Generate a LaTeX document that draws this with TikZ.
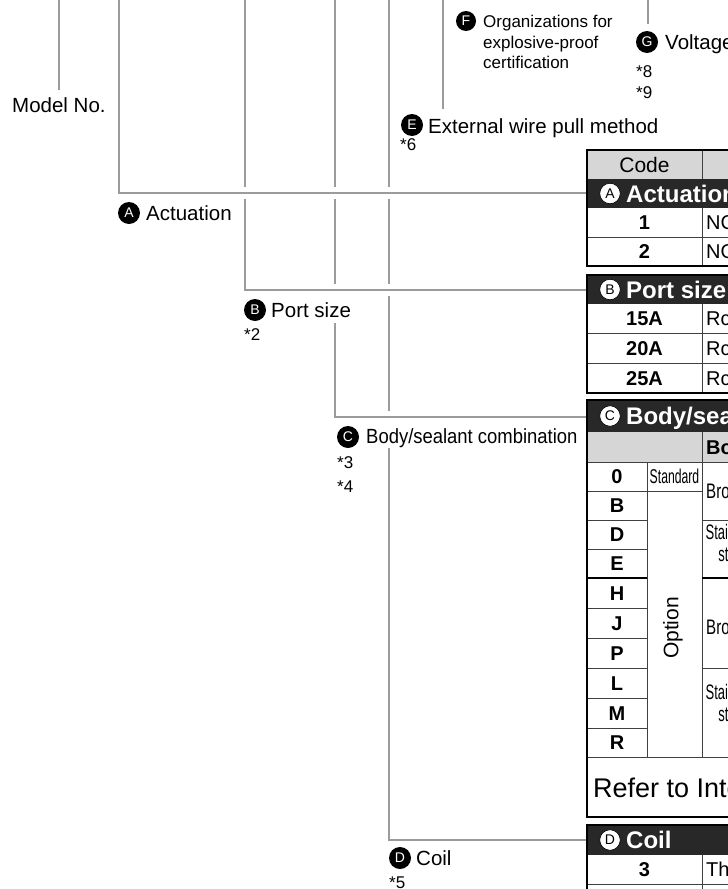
\documentclass[tikz,border=0pt]{standalone}
\usepackage{fontspec}
\setmainfont{Liberation Sans}
\usepackage{graphicx}
\definecolor{linegray}{HTML}{9B9B9B}
\definecolor{hdrgray}{HTML}{D6D6D6}
\definecolor{barblk}{HTML}{282828}
\definecolor{gridc}{HTML}{404040}
\begin{document}
\begin{tikzpicture}[x=1pt,y=-1pt,
  conn/.style={draw=linegray, line width=2.2pt, line join=miter},
  lbl/.style={anchor=base west, inner sep=0pt, font=\fontsize{20.5}{24}\selectfont},
  flbl/.style={anchor=base west, inner sep=0pt, font=\fontsize{17}{20}\selectfont},
  note/.style={anchor=base west, inner sep=0pt, font=\fontsize{17}{20}\selectfont},
  bcirc/.style={circle, fill=black, text=white, inner sep=0pt, minimum size=22pt, font=\fontsize{14}{14}\selectfont},
  wcirc/.style={circle, fill=white, draw=black, line width=0.6pt, text=black, inner sep=0pt, minimum size=20.5pt, font=\fontsize{14}{14}\selectfont},
  outer/.style={draw=black, line width=2.4pt},
  grid/.style={draw=gridc, line width=1pt},
  gridthick/.style={draw=black, line width=1.8pt},
  bartxt/.style={anchor=base west, inner sep=0pt, text=white, font=\bfseries\fontsize{24}{26}\selectfont},
  tcode/.style={anchor=base, inner sep=0pt, font=\bfseries\fontsize{20}{22}\selectfont},
  tdesc/.style={anchor=base west, inner sep=0pt, font=\fontsize{20}{22}\selectfont},
  tcond/.style={anchor=base west, inner sep=0pt, font=\fontsize{21}{22}\selectfont},
  tcondc/.style={anchor=base, inner sep=0pt, font=\fontsize{21}{22}\selectfont},
]
\useasboundingbox (0,0) rectangle (728,889);
\clip (0,0) rectangle (728,889);

% ---------- connector coordinates ----------
\coordinate (m0) at (59,0);   \coordinate (m1) at (59,90);
\coordinate (a0) at (119,0);  \coordinate (a1) at (119,193); \coordinate (a2) at (587,193);
\coordinate (b0) at (245,0);  \coordinate (b1) at (245,187); \coordinate (b2) at (245,199);
\coordinate (b3) at (245,290); \coordinate (b4) at (587,290);
\coordinate (c0) at (335,0);  \coordinate (c1) at (335,187); \coordinate (c2) at (335,199);
\coordinate (c3) at (335,284); \coordinate (c4) at (335,323); \coordinate (c5) at (335,417);
\coordinate (c6) at (587,417);
\coordinate (d0) at (389,0);  \coordinate (d1) at (389,187); \coordinate (d2) at (389,199);
\coordinate (d3) at (389,284); \coordinate (d4) at (389,296); \coordinate (d5) at (389,411);
\coordinate (d6) at (389,448); \coordinate (d7) at (389,840); \coordinate (d8) at (587,840);
\coordinate (e0) at (443,0);  \coordinate (e1) at (443,109);
\coordinate (g0) at (648,0);  \coordinate (g1) at (648,24);

\draw[conn] (m0) -- (m1);
\draw[conn] (a0) -- (a1) -- (a2);
\draw[conn] (b0) -- (b1);
\draw[conn] (b2) -- (b3) -- (b4);
\draw[conn] (c0) -- (c1);
\draw[conn] (c2) -- (c3);
\draw[conn] (c4) -- (c5) -- (c6);
\draw[conn] (d0) -- (d1);
\draw[conn] (d2) -- (d3);
\draw[conn] (d4) -- (d5);
\draw[conn] (d6) -- (d7) -- (d8);
\draw[conn] (e0) -- (e1);
\draw[conn] (g0) -- (g1);

% ---------- labels ----------
\node[lbl] (model) at (12,112) {Model No.};

\node[bcirc] (cA) at (129,213) {A};
\node[lbl] (tA) at (146,220) {Actuation};

\node[bcirc] (cB) at (255,310) {B};
\node[lbl] (tB) at (271,317) {Port size};
\node[note] (n2) at (244,340) {*2};

\node[bcirc] (cC) at (348,437) {C};
\node[lbl] (tC) at (366,443) {\scalebox{0.9}[1]{Body/sealant combination}};
\node[note] (n3) at (337,468) {*3};
\node[note] (n4) at (337,492) {*4};

\node[bcirc] (cD) at (400,858) {D};
\node[lbl] (tD) at (416,865) {Coil};
\node[note] (n5) at (389,888) {*5};

\node[bcirc] (cE) at (412,125) {E};
\node[lbl] (tE) at (428,133) {External wire pull method};
\node[note] (n6) at (400,150) {*6};

\node[bcirc, minimum size=20pt] (cF) at (466,21) {F};
\node[flbl] (tF1) at (483,27) {Organizations for};
\node[flbl] (tF2) at (483,48) {explosive-proof};
\node[flbl] (tF3) at (483,68) {certification};

\node[bcirc] (cG) at (647,42) {G};
\node[lbl] (tG) at (665,49) {Voltage};
\node[note] (n8) at (636,77) {*8};
\node[note] (n9) at (636,98) {*9};

% ---------- table section A ----------
\fill[hdrgray] (587,150) rectangle (800,179);
\fill[barblk] (587,179) rectangle (800,208);
\draw[grid] (702,150) -- (702,179);
\draw[grid] (702,208) -- (702,266);
\draw[grid] (587,237) -- (800,237);
\draw[outer] (587,150) rectangle (800,266);
\node[anchor=base, inner sep=0pt, font=\fontsize{21}{22}\selectfont] (hCode) at (644.5,172) {Code};
\node[wcirc] (hA) at (610,193.5) {A};
\node[bartxt] (hAt) at (626,202) {Actuation};
\node[tcode] (r1) at (644.5,229.7) {1};
\node[tdesc] (r1d) at (706,229.7) {NC};
\node[tcode] (r2) at (644.5,258.7) {2};
\node[tdesc] (r2d) at (706,258.7) {NO};

% ---------- table section B ----------
\fill[barblk] (587,275) rectangle (800,304);
\draw[grid] (702,304) -- (702,393);
\draw[grid] (587,333) -- (800,333);
\draw[grid] (587,363) -- (800,363);
\draw[outer] (587,275) rectangle (800,393);
\node[wcirc] (hB) at (610,289.5) {B};
\node[bartxt] (hBt) at (626,298) {Port size};
\node[tcode] (r15) at (644.5,325.7) {15A};
\node[tdesc] (r15d) at (706,325.7) {Rc1/2};
\node[tcode] (r20) at (644.5,355.2) {20A};
\node[tdesc] (r20d) at (706,355.2) {Rc3/4};
\node[tcode] (r25) at (644.5,385.2) {25A};
\node[tdesc] (r25d) at (706,385.2) {Rc1};

% ---------- table section C ----------
\fill[barblk] (587,400) rectangle (800,432);
\fill[hdrgray] (587,432) rectangle (800,462);
\draw[grid] (587,462) -- (800,462);
\draw[grid] (702,432) -- (702,757);
\draw[grid] (647,462) -- (647,757);
\foreach \yy in {491,520,549,608,638,668,698,728} {\draw[grid] (587,\yy) -- (647,\yy);}
\draw[gridthick] (587,578) -- (647,578);
\draw[grid] (647,491) -- (702,491);
\draw[grid] (702,520) -- (800,520);
\draw[gridthick] (702,578) -- (800,578);
\draw[grid] (702,668) -- (800,668);
\draw[grid] (587,757) -- (800,757);
\draw[outer] (587,400) rectangle (800,817);
\node[wcirc] (hC) at (610,416) {C};
\node[bartxt] (hCt) at (626,424.6) {Body/sealant combination};
\node[anchor=base west, inner sep=0pt, font=\bfseries\fontsize{20}{22}\selectfont] (hBody) at (706,454) {Body};

\node[tcode] (k0) at (617,483.7) {0};
\node[tcode] (kB) at (617,512.7) {B};
\node[tcode] (kD) at (617,541.7) {D};
\node[tcode] (kE) at (617,570.7) {E};
\node[tcode] (kH) at (617,600.2) {H};
\node[tcode] (kJ) at (617,630.2) {J};
\node[tcode] (kP) at (617,660.2) {P};
\node[tcode] (kL) at (617,690.2) {L};
\node[tcode] (kM) at (617,720.2) {M};
\node[tcode] (kR) at (617,749.7) {R};

\node[anchor=base, inner sep=0pt, font=\fontsize{20}{22}\selectfont] (std) at (674.5,483.7) {\scalebox{0.61}[1]{Standard}};
\node[rotate=90, inner sep=0pt, font=\fontsize{21}{22}\selectfont] (opt) at (673,628) {Option};

\node[tcond] (m1a) at (706,498) {\scalebox{0.72}[1]{Bronze}};
\node[tcondc] (m2a) at (732,539) {\scalebox{0.62}[1]{Stainless}};
\node[tcondc] (m2b) at (732,561) {\scalebox{0.62}[1]{steel}};
\node[tcond] (m3a) at (706,634) {\scalebox{0.72}[1]{Bronze}};
\node[tcondc] (m4a) at (732,699) {\scalebox{0.62}[1]{Stainless}};
\node[tcondc] (m4b) at (732,721) {\scalebox{0.62}[1]{steel}};

\node[anchor=base west, inner sep=0pt, font=\fontsize{27}{30}\selectfont] (refer) at (593,797) {Refer to Internal structure};

% ---------- table section D ----------
\fill[barblk] (587,825) rectangle (800,855);
\draw[grid] (702,855) -- (702,900);
\draw[grid] (587,884) -- (800,884);
\draw[outer] (587,825) rectangle (800,900);
\node[wcirc] (hD) at (610,840) {D};
\node[bartxt] (hDt) at (626,848.6) {Coil};
\node[tcode] (r3) at (644.5,876.7) {3};
\node[tdesc] (r3d) at (706,876.7) {Thermal class};
\end{tikzpicture}
\end{document}
